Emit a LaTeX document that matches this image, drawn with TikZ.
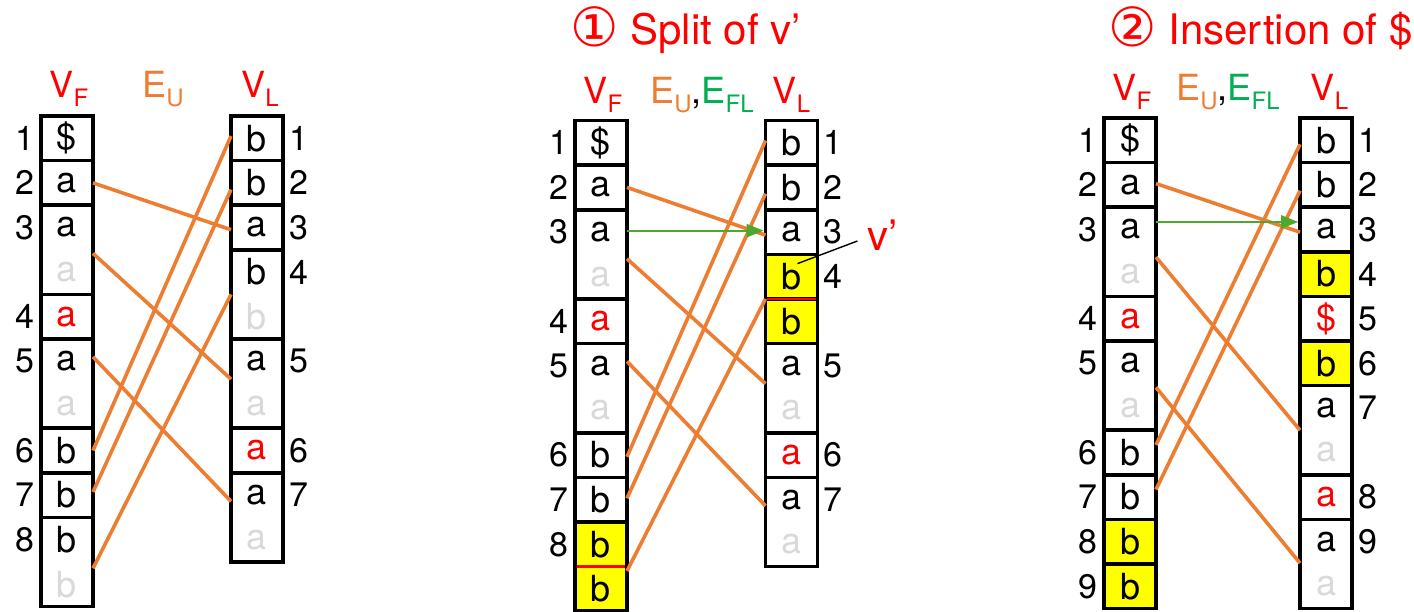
\documentclass[tikz,border=0pt]{standalone}
\usepackage{fontspec}
\setmainfont{TeX Gyre Heros}
\newfontfamily\circfont{DejaVu Sans}
\usetikzlibrary{arrows.meta,positioning,calc}
\definecolor{keyred}{HTML}{FF0000}
\definecolor{euorange}{HTML}{ED7D31}
\definecolor{flgreen}{HTML}{00B050}
\definecolor{arrowgreen}{HTML}{4EA72E}
\definecolor{ghostgray}{HTML}{D9D9D9}
\definecolor{hlyellow}{HTML}{FFFF00}
\newcommand\cellfont{\fontsize{18pt}{22.3pt}\selectfont}
\newcommand\numfont{\fontsize{17pt}{19pt}\selectfont}
\newcommand\lblfont{\fontsize{18pt}{20pt}\selectfont}
\newcommand\ttlfont{\fontsize{21pt}{24pt}\selectfont}
\newcommand\subsfont{\fontsize{12pt}{12pt}\selectfont}
\newcommand\lowsub[1]{\raisebox{-4.5pt}{\subsfont #1}}
\newcommand\ghostch[1]{\textcolor{ghostgray}{#1}}
\newcommand\circno[1]{\raisebox{-1pt}{\circfont\fontsize{27pt}{27pt}\selectfont #1}}
\tikzset{
  % Zellen
  cellbox/.style={draw=black,line width=1.8pt,minimum width=26pt,minimum height=22.3pt,
                  inner sep=0pt,outer sep=0pt,font=\cellfont},
  cellboxii/.style={cellbox,minimum height=44.6pt,align=center},
  marked/.style={fill=hlyellow},
  redch/.style={text=keyred},
  numl/.style={anchor=east,inner sep=0pt,xshift=-3pt,yshift=-11.15pt,font=\numfont},
  numr/.style={anchor=west,inner sep=0pt,xshift=3pt,yshift=-11.15pt,font=\numfont},
  lbl/.style={anchor=base,inner sep=0pt,font=\lblfont},
  ttl/.style={anchor=base west,inner sep=0pt,font=\ttlfont,text=keyred},
  vpr/.style={inner sep=5pt,font=\ttlfont,text=keyred},
  % Kanten
  eu/.style={draw=euorange,line width=1.8pt},
  efl/.style={-{Triangle[length=8.5pt,width=6.5pt]},draw=arrowgreen,line width=1.1pt,
              shorten >=0.9pt},
  splitline/.style={draw=keyred,line width=1.4pt,shorten <=0.9pt,shorten >=0.9pt},
  vline/.style={draw=black,line width=0.7pt},
}
\begin{document}
\begin{tikzpicture}[x=0.5pt,y=-0.5pt]
\useasboundingbox (0,0) rectangle (1414,611);
  % Titel
  \node[ttl] (t1) at (570,44) {\circno{①} Split of v’};
  \node[ttl] (t2) at (1108,44) {\circno{②} Insertion of \$};
  % Beschriftungen
  \node[lbl] (vfa) at (69,97) {\color{keyred}V\lowsub{F}};
  \node[lbl] (eua) at (163,97) {\color{euorange}E\lowsub{U}};
  \node[lbl] (vla) at (260,97) {\color{keyred}V\lowsub{L}};
  \node[lbl] (vfb) at (603,103) {\color{keyred}V\lowsub{F}};
  \node[lbl] (eub) at (702,103) {{\color{euorange}E\lowsub{U}},{\color{flgreen}E\lowsub{FL}}};
  \node[lbl] (vlb) at (791.5,103) {\color{keyred}V\lowsub{L}};
  \node[lbl] (vfc) at (1132,100) {\color{keyred}V\lowsub{F}};
  \node[lbl] (euc) at (1228,100) {{\color{euorange}E\lowsub{U}},{\color{flgreen}E\lowsub{FL}}};
  \node[lbl] (vlc) at (1329.5,100) {\color{keyred}V\lowsub{L}};
  % Bild 1
  \node[cellbox,anchor=north] (fa1) at (67,116) {\$};
  \node[cellbox,below=0pt of fa1] (fa2) {a};
  \node[cellboxii,below=0pt of fa2] (fa3) {a\\\ghostch{a}};
  \node[cellbox,redch,below=0pt of fa3] (fa4) {a};
  \node[cellboxii,below=0pt of fa4] (fa5) {a\\\ghostch{a}};
  \node[cellbox,below=0pt of fa5] (fa6) {b};
  \node[cellbox,below=0pt of fa6] (fa7) {b};
  \node[cellboxii,below=0pt of fa7] (fa8) {b\\\ghostch{b}};
  \node[cellbox,anchor=north] (la1) at (257,116) {b};
  \node[cellbox,below=0pt of la1] (la2) {b};
  \node[cellbox,below=0pt of la2] (la3) {a};
  \node[cellboxii,below=0pt of la3] (la4) {b\\\ghostch{b}};
  \node[cellboxii,below=0pt of la4] (la5) {a\\\ghostch{a}};
  \node[cellbox,redch,below=0pt of la5] (la6) {a};
  \node[cellboxii,below=0pt of la6] (la7) {a\\\ghostch{a}};
  \foreach \i in {1,...,8} \node[numl] (nfa\i) at (fa\i.north west) {\i};
  \foreach \i in {1,...,7} \node[numr] (nla\i) at (la\i.north east) {\i};
  \draw[eu] (fa2.east) -- ($(la3.north west)!0.55!(la3.south west)$);
  \draw[eu] ($(fa3.north east)!0.54!(fa3.south east)$) -- ($(la5.north west)!0.45!(la5.south west)$);
  \draw[eu] ($(fa5.north east)!0.2!(fa5.south east)$) -- ($(la7.north west)!0.32!(la7.south west)$);
  \draw[eu] (fa6.east) -- ($(la1.north west)!0.45!(la1.south west)$);
  \draw[eu] ($(fa7.north east)!0.43!(fa7.south east)$) -- ($(la2.north west)!0.65!(la2.south west)$);
  \draw[eu] ($(fa8.north east)!0.57!(fa8.south east)$) -- (la4.west);
  % Bild 2
  \node[cellbox,anchor=north] (fb1) at (601,120.5) {\$};
  \node[cellbox,below=0pt of fb1] (fb2) {a};
  \node[cellboxii,below=0pt of fb2] (fb3) {a\\\ghostch{a}};
  \node[cellbox,redch,below=0pt of fb3] (fb4) {a};
  \node[cellboxii,below=0pt of fb4] (fb5) {a\\\ghostch{a}};
  \node[cellbox,below=0pt of fb5] (fb6) {b};
  \node[cellbox,below=0pt of fb6] (fb7) {b};
  \node[cellbox,marked,below=0pt of fb7] (fb8) {b};
  \node[cellbox,marked,below=0pt of fb8] (fb9) {b};
  \node[cellbox,anchor=north] (lb1) at (791.5,120.5) {b};
  \node[cellbox,below=0pt of lb1] (lb2) {b};
  \node[cellbox,below=0pt of lb2] (lb3) {a};
  \node[cellbox,marked,below=0pt of lb3] (lb4) {b};
  \node[cellbox,marked,below=0pt of lb4] (lb5) {b};
  \node[cellboxii,below=0pt of lb5] (lb6) {a\\\ghostch{a}};
  \node[cellbox,redch,below=0pt of lb6] (lb7) {a};
  \node[cellboxii,below=0pt of lb7] (lb8) {a\\\ghostch{a}};
  \draw[splitline] (fb8.south west) -- (fb8.south east);
  \draw[splitline] (lb4.south west) -- (lb4.south east);
  \foreach \i in {1,...,8} \node[numl] (nfb\i) at (fb\i.north west) {\i};
  \foreach \c/\i in {lb1/1,lb2/2,lb3/3,lb4/4,lb6/5,lb7/6,lb8/7}
    \node[numr] (n\c) at (\c.north east) {\i};
  \draw[eu] (fb2.east) -- ($(lb3.north west)!0.57!(lb3.south west)$);
  \draw[eu] ($(fb3.north east)!0.55!(fb3.south east)$) -- ($(lb6.north west)!0.45!(lb6.south west)$);
  \draw[eu] ($(fb5.north east)!0.2!(fb5.south east)$) -- ($(lb8.north west)!0.32!(lb8.south west)$);
  \draw[eu] ($(fb6.north east)!0.54!(fb6.south east)$) -- ($(lb1.north west)!0.45!(lb1.south west)$);
  \draw[eu] ($(fb7.north east)!0.47!(fb7.south east)$) -- ($(lb2.north west)!0.64!(lb2.south west)$);
  \draw[eu] ($(fb9.north east)!0.1!(fb9.south east)$) -- (lb4.south west);
  \coordinate (gb) at ($(lb3.north west)!0.47!(lb3.south west)$);
  \draw[efl] (fb3.east |- gb) -- (gb);
  \node[vpr] (vp) at (883,235) {v’};
  \coordinate (vtip) at ($(lb4.center)+(6,-13)$);
  \draw[vline] (vtip) -- ([yshift=-3pt]vp.west);
  % Bild 3
  \node[cellbox,anchor=north] (fc1) at (1130,118) {\$};
  \node[cellbox,below=0pt of fc1] (fc2) {a};
  \node[cellboxii,below=0pt of fc2] (fc3) {a\\\ghostch{a}};
  \node[cellbox,redch,below=0pt of fc3] (fc4) {a};
  \node[cellboxii,below=0pt of fc4] (fc5) {a\\\ghostch{a}};
  \node[cellbox,below=0pt of fc5] (fc6) {b};
  \node[cellbox,below=0pt of fc6] (fc7) {b};
  \node[cellbox,marked,below=0pt of fc7] (fc8) {b};
  \node[cellbox,marked,below=0pt of fc8] (fc9) {b};
  \node[cellbox,anchor=north] (lc1) at (1326,118) {b};
  \node[cellbox,below=0pt of lc1] (lc2) {b};
  \node[cellbox,below=0pt of lc2] (lc3) {a};
  \node[cellbox,marked,below=0pt of lc3] (lc4) {b};
  \node[cellbox,redch,below=0pt of lc4] (lc5) {\$};
  \node[cellbox,marked,below=0pt of lc5] (lc6) {b};
  \node[cellboxii,below=0pt of lc6] (lc7) {a\\\ghostch{a}};
  \node[cellbox,redch,below=0pt of lc7] (lc8) {a};
  \node[cellboxii,below=0pt of lc8] (lc9) {a\\\ghostch{a}};
  \foreach \i in {1,...,9} \node[numl] (nfc\i) at (fc\i.north west) {\i};
  \foreach \i in {1,...,9} \node[numr] (nlc\i) at (lc\i.north east) {\i};
  \draw[eu] ($(fc2.north east)!0.47!(fc2.south east)$) -- ($(lc3.north west)!0.56!(lc3.south west)$);
  \draw[eu] ($(fc3.north east)!0.56!(fc3.south east)$) -- ($(lc7.north west)!0.5!(lc7.south west)$);
  \draw[eu] ($(fc5.north east)!0.52!(fc5.south east)$) -- ($(lc9.north west)!0.49!(lc9.south west)$);
  \draw[eu] ($(fc6.north east)!0.33!(fc6.south east)$) -- ($(lc1.north west)!0.59!(lc1.south west)$);
  \draw[eu] ($(fc7.north east)!0.33!(fc7.south east)$) -- ($(lc2.north west)!0.63!(lc2.south west)$);
  \coordinate (gc) at ($(lc3.north west)!0.33!(lc3.south west)$);
  \draw[efl] (fc3.east |- gc) -- (gc);
\end{tikzpicture}
\end{document}
